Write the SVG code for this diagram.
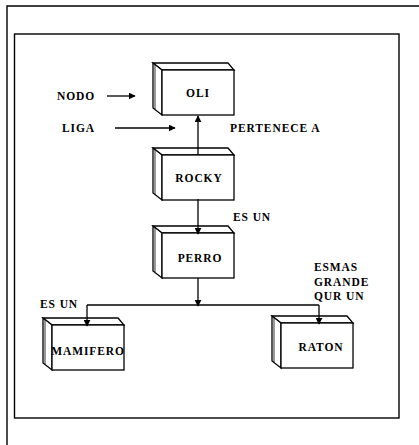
<svg xmlns="http://www.w3.org/2000/svg" xmlns:xlink="http://www.w3.org/1999/xlink" width="419" height="445" viewBox="0 0 419 445">
<style>
  .frame{fill:none;stroke:#000;stroke-width:1.4}
  .face{fill:#fff;stroke:#000;stroke-width:1.3;stroke-linejoin:miter}
  .lbl{font-family:"Liberation Serif","Times New Roman",serif;font-weight:bold;font-size:11.5px;letter-spacing:0.9px;fill:#000}
  .mid{text-anchor:middle}
  .conn{fill:none;stroke:#000;stroke-width:1.3}
</style>
<defs>
  <marker id="ah" viewBox="0 0 10 10" refX="9" refY="5" markerWidth="7" markerHeight="7" markerUnits="userSpaceOnUse" orient="auto">
    <path d="M0,0 L10,5 L0,10 Z" fill="#000"/>
  </marker>
  <g id="box">
    <path class="face" d="M0,0 L-9,-7 L66,-7 L72,0 Z"/>
    <path class="face" d="M0,0 L-9,-7 L-9,38 L0,45 Z"/>
    <line x1="-7" y1="-5" x2="-7" y2="39" stroke="#000" stroke-width="0.8"/>
    <rect class="face" x="0" y="0" width="72" height="45"/>
  </g>
</defs>
<rect width="419" height="445" fill="#fff"/>
<g id="frames">
  <path class="frame" d="M7,445 L7,6 L419,6"/>
  <rect class="frame" x="14.5" y="34" width="384.5" height="384"/>
</g>
<g id="oli">
  <use xlink:href="#box" x="162" y="70"/>
  <text class="lbl mid" x="198" y="97">OLI</text>
</g>
<g id="rocky">
  <use xlink:href="#box" x="162" y="155"/>
  <text class="lbl mid" x="199" y="182">ROCKY</text>
</g>
<g id="perro">
  <use xlink:href="#box" x="162" y="233"/>
  <text class="lbl mid" x="200" y="262">PERRO</text>
</g>
<g id="mamifero">
  <use xlink:href="#box" x="52" y="325"/>
  <text class="lbl mid" x="88" y="355">MAMIFERO</text>
</g>
<g id="raton">
  <use xlink:href="#box" x="281" y="323"/>
  <text class="lbl mid" x="321" y="351">RATON</text>
</g>
<g id="connectors">
  <line class="conn" x1="198" y1="155" x2="198" y2="116" marker-end="url(#ah)"/>
  <line class="conn" x1="198" y1="199" x2="198" y2="234" marker-end="url(#ah)"/>
  <line class="conn" x1="198" y1="278" x2="198" y2="306" marker-end="url(#ah)"/>
  <line class="conn" x1="87" y1="305" x2="319" y2="305"/>
  <line class="conn" x1="87" y1="305" x2="87" y2="326" marker-end="url(#ah)"/>
  <line class="conn" x1="319" y1="305" x2="319" y2="324" marker-end="url(#ah)"/>
  <line class="conn" x1="107" y1="96" x2="135" y2="96" marker-end="url(#ah)"/>
  <line class="conn" x1="115" y1="128" x2="175" y2="128" marker-end="url(#ah)"/>
</g>
<g id="labels">
  <text class="lbl" x="57" y="100">NODO</text>
  <text class="lbl" x="62" y="132">LIGA</text>
  <text class="lbl" x="230" y="132">PERTENECE A</text>
  <text class="lbl" x="233" y="221">ES UN</text>
  <text class="lbl" x="40" y="308">ES UN</text>
  <text class="lbl" x="314" y="271">ESMAS</text>
  <text class="lbl" x="314" y="286">GRANDE</text>
  <text class="lbl" x="314" y="300">QUR UN</text>
</g>
</svg>
